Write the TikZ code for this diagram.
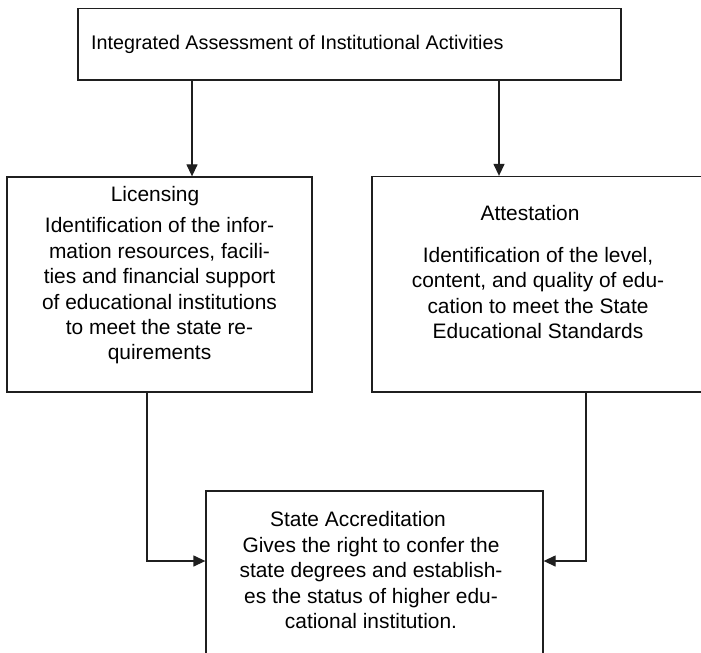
\documentclass[tikz,border=0pt]{standalone}
\usepackage{fontspec}
\setmainfont{Liberation Sans}
\usetikzlibrary{arrows.meta}
\begin{document}
\begin{tikzpicture}[x=1bp,y=-1bp,
  frame/.style={draw=black!88,line width=1.3bp,rectangle,inner sep=0pt},
  body/.style={align=center,inner sep=0pt,font=\fontsize{21}{25.5}\selectfont},
  head/.style={inner sep=0pt,font=\fontsize{21}{25.5}\selectfont},
  link/.style={draw=black!88,line width=1.3bp,-{Triangle[length=12bp,width=11bp]}}]
\clip (0,0) rectangle (701,653);
\fill[white] (0,0) rectangle (701,653);

% boxes
\node[frame,minimum width=543bp,minimum height=71.5bp] (top) at (349.5,44.25) {};
\node[frame,minimum width=305bp,minimum height=215bp] (lic) at (159.5,284.5) {};
\node[frame,minimum width=333bp,minimum height=215.5bp] (att) at (538.5,284.25) {};
\node[frame,minimum width=337bp,minimum height=190bp] (acc) at (374.5,586) {};

% texts
\node[head,anchor=west,font=\fontsize{19.8}{24}\selectfont] (toptext) at (91,44) {Integrated Assessment of Institutional Activities};
\node[head] (lichead) at (155,196) {Licensing};
\node[body] (licbody) at (159.5,291) {Identification of the infor-\\mation resources, facili-\\ties and financial support\\of educational institutions\\to meet the state re-\\quirements};
\node[head] (atthead) at (530,213) {Attestation};
\node[body] (attbody) at (538,293) {Identification of the level,\\content, and quality of edu-\\cation to meet the State\\Educational Standards};
\node[head,anchor=west] (acchead) at (270,519) {State Accreditation};
\node[body] (accbody) at (371,583) {Gives the right to confer the\\state degrees and establish-\\es the status of higher edu-\\cational institution.};

% connectors
\coordinate (lf) at (147,561);
\coordinate (rf) at (586,561);
\draw[link] (top.south -| 192,0) -- (lic.north -| 192,0);
\draw[link] (top.south -| 499,0) -- (att.north -| 499,0);
\draw[link] (lic.south -| lf) -- (lf) -- (lf -| acc.west);
\draw[link] (att.south -| rf) -- (rf) -- (rf -| acc.east);
\end{tikzpicture}
\end{document}
